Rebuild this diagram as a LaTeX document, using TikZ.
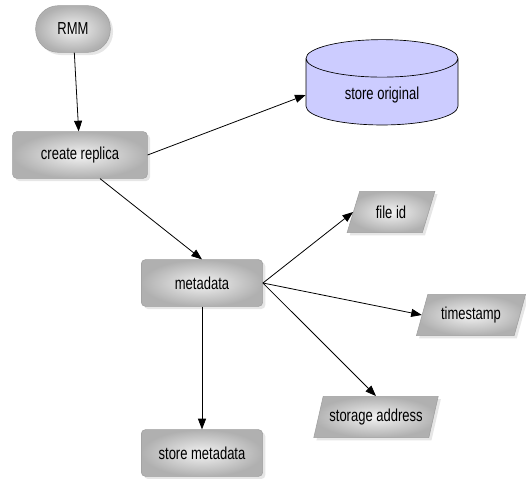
\documentclass[tikz,border=0pt]{standalone}
\usepackage{fontspec}
\setmainfont[FakeStretch=0.75]{Liberation Sans}
\usetikzlibrary{shapes.geometric,shadows,arrows.meta}
\begin{document}
\begin{tikzpicture}[x=0.75pt,y=-0.75pt,
  font=\fontsize{13}{15}\selectfont,
  shade/.style={inner color=gray!10, outer color=gray!62, draw=gray!75, line width=0.4pt,
    drop shadow={opacity=0.2, shadow xshift=2pt, shadow yshift=-2pt}},
  procbox/.style={shade, rectangle, rounded corners=3pt, minimum width=91pt, minimum height=35pt},
  databox/.style={shade, trapezium, trapezium left angle=70, trapezium right angle=110,
    trapezium stretches=true, minimum height=31pt},
  conn/.style={-{Triangle[length=8pt,width=6pt]}, line width=0.6pt}]
\useasboundingbox (0,0) rectangle (526,479);
\node[shade, rectangle, rounded corners=17pt, minimum width=56pt, minimum height=35pt] (rmm) at (73,29) {RMM};
\node[procbox, minimum width=101pt] (cr) at (80,155) {create replica};
\node[cylinder, shape border rotate=90, aspect=0.45, draw=black, fill=blue!20, line width=0.5pt,
  minimum width=114pt, minimum height=64pt] (so) at (382,95) {store original};
\node[procbox] (md) at (202,283) {metadata};
\node[databox, minimum width=66pt] (fid) at (391,212) {file id};
\node[databox, minimum width=82pt] (ts) at (471,315) {timestamp};
\node[databox, minimum width=94pt] (sa) at (376,417) {storage address};
\node[procbox] (sm) at (202,453) {store metadata};
\draw[conn] (rmm) -- (cr);
\draw[conn] (cr.east) -- (so.west);
\draw[conn] (cr.south) ++(20,0) -- (md.north);
\draw[conn] (md.east) -- (fid.west);
\draw[conn] (md.east) -- (ts.west);
\draw[conn] (md.east) -- (sa.north);
\draw[conn] (md) -- (sm);
\end{tikzpicture}
\end{document}
